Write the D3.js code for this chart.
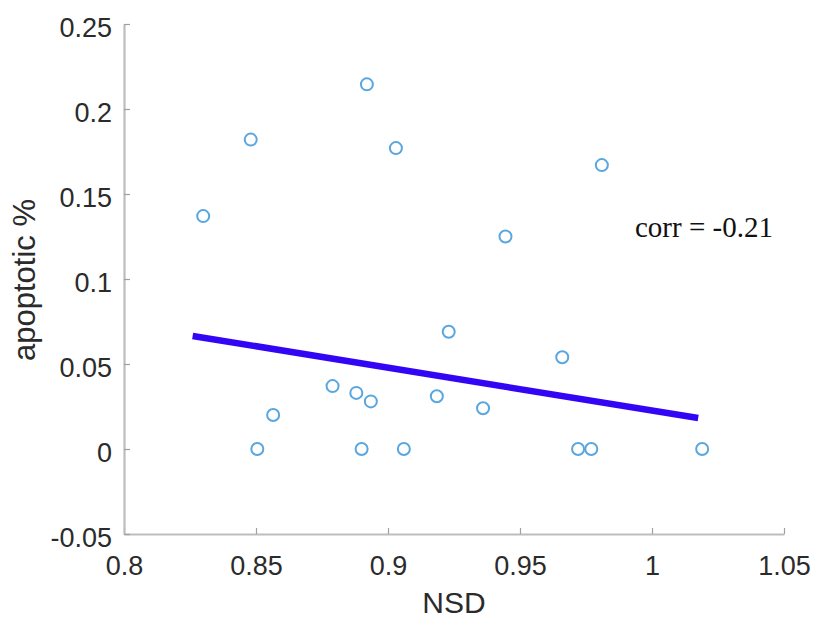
<!DOCTYPE html>
<html>
<head>
<meta charset="utf-8">
<script src="https://cdn.jsdelivr.net/npm/d3@7"></script>
<style>
  html, body { margin: 0; padding: 0; background: #fff; }
  svg { display: block; }
</style>
</head>
<body>
<svg id="chart" width="814" height="620"></svg>
<script>
// Data
const nsd = [0.830, 0.848, 0.8505, 0.8565, 0.879, 0.888, 0.890, 0.892, 0.8935, 0.903,
             0.906, 0.9185, 0.923, 0.936, 0.9445, 0.966, 0.972, 0.977, 0.981, 1.019];
const apoptotic = [0.137, 0.182, 0, 0.020, 0.037, 0.033, 0, 0.2145, 0.028, 0.177,
                   0, 0.031, 0.069, 0.024, 0.125, 0.054, 0, 0, 0.167, 0];
const fitX = [0.826, 1.0175];
const fitY = [0.0665, 0.0182];
const xTicks = [0.8, 0.85, 0.9, 0.95, 1, 1.05];
const yTicks = [-0.05, 0, 0.05, 0.1, 0.15, 0.2, 0.25];
const corrLabel = "corr = -0.21";

(function () {
const svg = d3.select("#chart");
const pLeft = 124, pRight = 784, pTop = 24, pBottom = 534;

const x = d3.scaleLinear().domain([0.8, 1.05]).range([pLeft, pRight]);
const y = d3.scaleLinear().domain([-0.05, 0.25]).range([pBottom, pTop]);

const axisColor = "#bdbdbd";
const textColor = "#2b2b2b";
const fontSans = "'Liberation Sans', Arial, sans-serif";
const fmt = d => String(d);

// X axis
const gx = svg.append("g").attr("transform", `translate(0,${pBottom})`)
  .call(d3.axisBottom(x).tickValues(xTicks).tickFormat(fmt)
    .tickSizeInner(-6).tickSizeOuter(0).tickPadding(22));
gx.select(".domain").attr("stroke", axisColor).attr("stroke-width", 2.2);
gx.selectAll(".tick line").attr("stroke", "#a0a0a0").attr("stroke-width", 1.2);
gx.selectAll(".tick text").attr("fill", textColor).style("font-family", fontSans).style("font-size", "27px");

// Y axis
const gy = svg.append("g").attr("transform", `translate(${pLeft},0)`)
  .call(d3.axisLeft(y).tickValues(yTicks).tickFormat(fmt)
    .tickSizeInner(-6).tickSizeOuter(0).tickPadding(12));
gy.select(".domain").attr("stroke", axisColor).attr("stroke-width", 2.2);
gy.selectAll(".tick line").attr("stroke", "#a0a0a0").attr("stroke-width", 1.2);
gy.selectAll(".tick text").attr("fill", textColor).attr("dy", "0.48em")
  .style("font-family", fontSans).style("font-size", "27px");

// Axis labels
svg.append("text")
  .attr("x", (pLeft + pRight) / 2).attr("y", 613)
  .attr("text-anchor", "middle")
  .attr("fill", textColor)
  .style("font-family", fontSans).style("font-size", "30px")
  .text("NSD");

svg.append("text")
  .attr("transform", `translate(35,280) rotate(-90)`)
  .attr("text-anchor", "middle")
  .attr("fill", textColor)
  .style("font-family", fontSans).style("font-size", "31px")
  .text("apoptotic %");

// Points
svg.append("g").selectAll("circle")
  .data(nsd.map((v, i) => [v, apoptotic[i]]))
  .join("circle")
  .attr("cx", d => x(d[0]))
  .attr("cy", d => y(d[1]))
  .attr("r", 6)
  .attr("fill", "none")
  .attr("stroke", "#5aa6df")
  .attr("stroke-width", 2);

// Fit line
svg.append("path")
  .datum(fitX.map((v, i) => [v, fitY[i]]))
  .attr("d", d3.line().x(d => x(d[0])).y(d => y(d[1])))
  .attr("fill", "none")
  .attr("stroke", "#3206f5")
  .attr("stroke-width", 6.5);

// Correlation annotation
svg.append("text")
  .attr("x", 635).attr("y", 237)
  .attr("fill", "#111")
  .style("font-family", "'Liberation Serif', 'Times New Roman', serif")
  .style("font-size", "29px")
  .text(corrLabel);
})();
</script>
</body>
</html>
